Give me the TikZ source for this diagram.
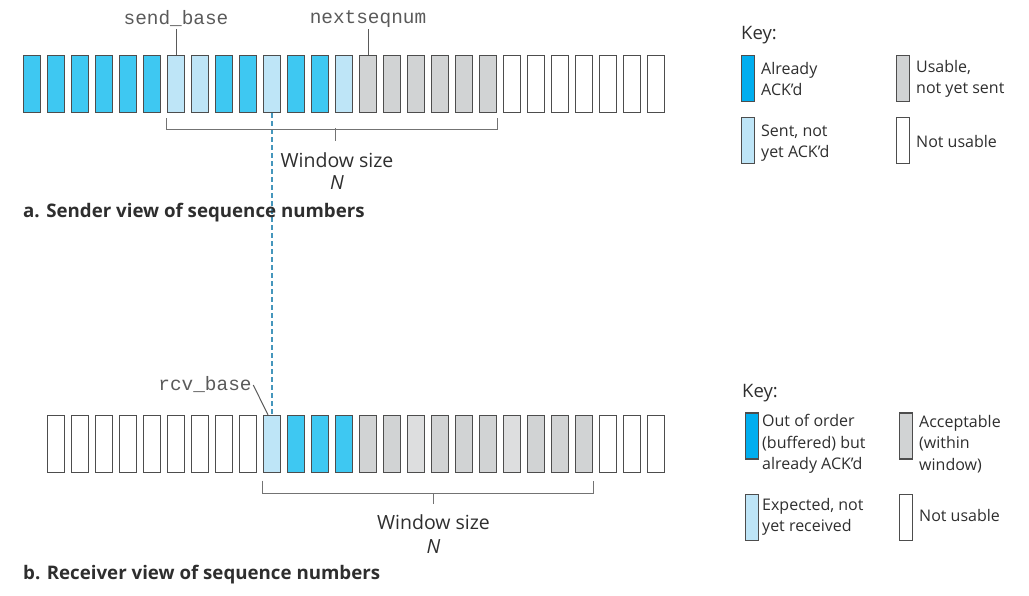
\documentclass[tikz,border=0pt]{standalone}
\usepackage{fontspec}
\setmainfont{Open Sans}
\setmonofont{Liberation Mono}
\definecolor{cD}{HTML}{3EC8F2}
\definecolor{cKD}{HTML}{00AEEF}
\definecolor{cL}{HTML}{BEE5F7}
\definecolor{cG}{HTML}{D1D3D4}
\definecolor{cH}{HTML}{DDDEDF}
\definecolor{cB}{HTML}{4D4D4D}
\definecolor{cT}{HTML}{2E2E2E}
\definecolor{cM}{HTML}{5A5A5A}
\definecolor{cDash}{HTML}{4596BC}
\tikzset{
  cell/.style={draw=cB, line width=1.3pt, minimum width=17pt, minimum height=57pt, inner sep=0pt},
  cellD/.style={cell, fill=cD},
  cellL/.style={cell, fill=cL},
  cellG/.style={cell, fill=cG},
  cellH/.style={cell, fill=cH},
  cellW/.style={cell, fill=white},
  keybox/.style={draw=cB, line width=1.3pt, minimum width=13pt, minimum height=46pt, inner sep=0pt},
  keytext/.style={anchor=west, inner sep=0pt, align=left, text=cT, font=\fontsize{16}{21.5}\selectfont},
  keytitle/.style={anchor=west, inner sep=0pt, text=cT, font=\fontsize{18.5}{22}\selectfont},
  mono/.style={text=cM, font=\ttfamily\fontsize{19.4}{22}\selectfont, inner sep=1.5pt},
  wtext/.style={text=cT, font=\fontsize{19.5}{22}\selectfont, inner sep=0pt},
  title/.style={anchor=west, inner sep=0pt, text=cT, font=\bfseries\fontsize{18.7}{22}\selectfont},
  brk/.style={draw=black!55, line width=1pt},
  lbl/.style={draw=cM, line width=1pt},
  dashline/.style={draw=cDash, line width=1.2pt, dash pattern=on 5pt off 3pt}
}
\begin{document}
\begin{tikzpicture}[x=1pt,y=-1pt]
\useasboundingbox (0,0) rectangle (1029,596);
% sender row
\foreach \t [count=\i from 0] in {D,D,D,D,D,D,L,L,D,D,L,D,D,L,G,G,G,G,G,G,W,W,W,W,W,W,W}
  \node[cell\t] (s\i) at ({32+24*\i},84) {};
% receiver row
\foreach \t [count=\i from 0] in {W,W,W,W,W,W,W,W,W,L,D,D,D,G,G,H,G,G,G,H,G,G,G,W,W,W}
  \node[cell\t] (r\i) at ({56+24*\i},444) {};
% labels
\node[mono] (sb) at (176,19) {send\_base};
\draw[lbl] (sb) -- (s6);
\node[mono] (nx) at (368,19) {nextseqnum};
\draw[lbl] (nx) -- (s14);
\node[mono] (rb) at (205,385) {rcv\_base};
\draw[lbl] (rb.east) -- ([xshift=-4pt]r9.north);
% dashed link
\draw[dashline] (s10.south) -- (r9.north);
% sender window bracket
\draw[brk] ([yshift=-5pt]s6.south west) -- ([yshift=-16pt]s6.south west) -- ([yshift=-16pt]s19.south east) -- ([yshift=-5pt]s19.south east);
\coordinate (wta) at (335,128.5);
\coordinate (wtb) at (335,141);
\draw[brk] (wta) -- (wtb);
\node[wtext] (wsa) at (337,160) {Window size};
\node[wtext] (na) at (337,183) {\itshape N};
\node[title] (ta) at (23,213) {a. Sender view of sequence numbers};
% receiver window bracket
\draw[brk] ([yshift=-7.5pt]r9.south west) -- ([yshift=-20.5pt]r9.south west) -- ([yshift=-20.5pt]r22.south east) -- ([yshift=-7.5pt]r22.south east);
\coordinate (wrb) at (433,493);
\coordinate (wrc) at (433,504);
\draw[brk] (wrb) -- (wrc);
\node[wtext] (wsb) at (433.5,522) {Window size};
\node[wtext] (nb) at (433.5,547) {\itshape N};
\node[title] (tb) at (23,575) {b. Receiver view of sequence numbers};
% sender key
\node[keytitle] (k1) at (741,35) {Key:};
\node[keybox, fill=cKD] (k1a) at (748,78.5) {};
\node[keytext] (k1at) at (761,79) {Already\\ACK’d};
\node[keybox, fill=cG] (k1b) at (903,78.5) {};
\node[keytext] (k1bt) at (916,79) {Usable,\\not yet sent};
\node[keybox, fill=cL] (k1c) at (748,140.5) {};
\node[keytext] (k1ct) at (761,143) {Sent, not\\yet ACK’d};
\node[keybox, fill=white] (k1d) at (903,140.5) {};
\node[keytext] (k1dt) at (916,142) {Not usable};
% receiver key
\node[keytitle] (k2) at (742,393) {Key:};
\node[keybox, fill=cKD] (k2a) at (752,436) {};
\node[keytext] (k2at) at (762,444) {Out of order\\(buffered) but\\already ACK’d};
\node[keybox, fill=cG] (k2b) at (906,436) {};
\node[keytext] (k2bt) at (919,444) {Acceptable\\(within\\window)};
\node[keybox, fill=cL] (k2c) at (752,517.5) {};
\node[keytext] (k2ct) at (762,517) {Expected, not\\yet received};
\node[keybox, fill=white] (k2d) at (906,517.5) {};
\node[keytext] (k2dt) at (919,515) {Not usable};
\end{tikzpicture}
\end{document}
